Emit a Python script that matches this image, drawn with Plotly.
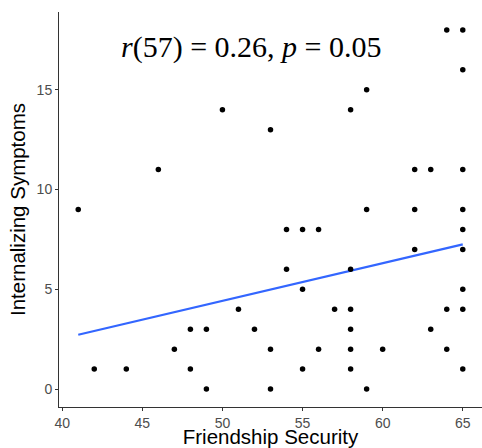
import plotly.graph_objects as go

friendship = [41, 42, 44, 46, 47, 48, 48, 49, 49, 50, 51, 52, 53, 53, 53, 54, 54, 55, 55, 55,
              56, 56, 57, 58, 58, 58, 58, 58, 58, 59, 59, 59, 60, 62, 62, 62, 63, 63, 64, 64,
              64, 65, 65, 65, 65, 65, 65, 65, 65, 65]
internalizing = [9, 1, 1, 11, 2, 3, 1, 3, 0, 14, 4, 3, 13, 2, 0, 8, 6, 8, 5, 1,
                 8, 2, 4, 14, 6, 4, 3, 2, 1, 15, 9, 0, 2, 11, 9, 7, 11, 3, 18, 4,
                 2, 18, 16, 11, 9, 8, 7, 5, 4, 1]
fit_x = [41, 65]
fit_y = [2.72, 7.25]
x_ticks = [40, 45, 50, 55, 60, 65]
y_ticks = [0, 5, 10, 15]
annotation_text = "<i>r</i>(57) = 0.26, <i>p</i> = 0.05"
x_title = "Friendship Security"
y_title = "Internalizing Symptoms"

fig = go.Figure()
fig.add_trace(go.Scatter(x=fit_x, y=fit_y, mode="lines",
                         line=dict(color="#3366FF", width=2.2), showlegend=False))
fig.add_trace(go.Scatter(x=friendship, y=internalizing, mode="markers",
                         marker=dict(color="black", size=5.5), showlegend=False))

fig.add_annotation(x=0.455, y=0.912, xref="paper", yref="paper", text=annotation_text,
                   xanchor="center", yanchor="middle",
                   showarrow=False, font=dict(family="Liberation Serif", size=30, color="black"))

axis_common = dict(showgrid=False, zeroline=False, showline=True, linecolor="#333333", linewidth=1,
                   ticks="outside", ticklen=3, tickcolor="#333333", automargin=False,
                   tickfont=dict(family="Liberation Sans", size=14, color="#4d4d4d"))
fig.update_xaxes(range=[39.8, 66.2], tickvals=x_ticks,
                 title=dict(text=x_title, standoff=0,
                            font=dict(family="Liberation Sans", size=20.5, color="black")),
                 **axis_common)
fig.update_yaxes(range=[-0.9, 18.9], tickvals=y_ticks,
                 title=dict(text=y_title, standoff=5,
                            font=dict(family="Liberation Sans", size=20.5, color="black")),
                 **axis_common)
fig.update_layout(width=482, height=448, margin=dict(l=59, r=0, t=12, b=41),
                  plot_bgcolor="white", paper_bgcolor="white")
fig.write_html("out.html", config={"displayModeBar": False},
               post_script="document.body.style.margin='0';")
